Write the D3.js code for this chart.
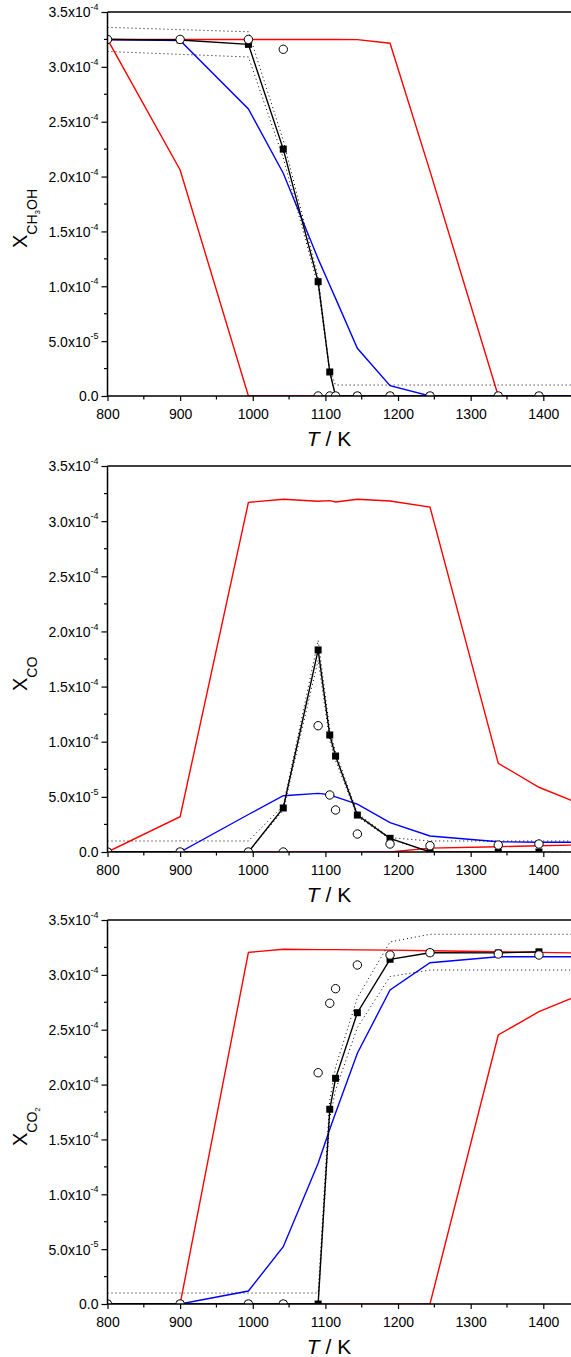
<!DOCTYPE html>
<html><head><meta charset="utf-8">
<script src="https://cdn.jsdelivr.net/npm/d3@7"></script>
<style>body{margin:0;background:#fff}svg{display:block}text{font-family:"Liberation Sans",Arial,sans-serif;fill:#000}</style>
</head><body><svg id="c" width="571" height="1357"></svg>
<script>
// Temperatures (K)
const T = [800, 900, 994, 1042, 1090, 1106, 1114, 1144, 1189, 1244, 1338, 1394, 1440];
const Texp = [800, 900, 994, 1042, 1090, 1106, 1114, 1144, 1189, 1244, 1338, 1394];
const xTicks = [800, 900, 1000, 1100, 1200, 1300, 1400];
const yTicks = [0, 0.5, 1.0, 1.5, 2.0, 2.5, 3.0, 3.5];           // units of 1e-4
const yTickMant = ["0.0", "5.0", "1.0", "1.5", "2.0", "2.5", "3.0", "3.5"];
const yTickExp  = ["", "-5", "-4", "-4", "-4", "-4", "-4", "-4"];

// ---- CH3OH (units 1e-4)
const ch3ohRedA = [3.25, 2.06, 0, 0, 0, 0, 0, 0, 0, 0, 0, 0, 0];
const ch3ohRedB = [3.25, 3.25, 3.25, 3.25, 3.25, 3.25, 3.25, 3.248, 3.215, 2.05, 0, 0, 0];
const ch3ohBlue = [3.25, 3.24, 2.616, 2.03, 1.25, 1.01, 0.89, 0.435, 0.094, 0, 0, 0, 0];
const ch3ohSq   = [3.25, 3.245, 3.205, 2.25, 1.042, 0.219, 0, 0, 0, 0, 0, 0];
const ch3ohCirc = [3.25, 3.25, 3.25, 3.16, 0, 0, 0, 0, 0, 0, 0, 0];
const ch3ohUpT  = [800, 994, 1042, 1090, 1106, 1114, 1440];
const ch3ohUp   = [3.36, 3.32, 2.33, 1.08, 0.23, 0.10, 0.10];
const ch3ohLoT  = [800, 994, 1042, 1090, 1106, 1114, 1440];
const ch3ohLo   = [3.14, 3.09, 2.17, 1.00, 0.21, 0, 0];

// ---- CO
const coRedA = [0, 0.32, 3.17, 3.198, 3.18, 3.186, 3.174, 3.198, 3.183, 3.128, 0.804, 0.587, 0.465];
const coRedB = [0, 0, 0, 0, 0, 0, 0, 0, 0, 0.035, 0.048, 0.057, 0.063];
const coBlue = [0, 0, 0.34, 0.51, 0.532, 0.52, 0.50, 0.435, 0.266, 0.145, 0.093, 0.088, 0.088];
const coSq   = [0, 0, 0, 0.399, 1.832, 1.061, 0.870, 0.335, 0.124, 0, 0, 0];
const coCirc = [0, 0, 0, 0, 1.145, 0.517, 0.381, 0.163, 0.0725, 0.057, 0.063, 0.0725];
const coUpT  = [800, 994, 1042, 1090, 1106, 1114, 1144, 1189, 1244, 1440];
const coUp   = [0.10, 0.10, 0.42, 1.92, 1.11, 0.91, 0.35, 0.13, 0.10, 0.10];
const coLoT  = [800, 994, 1042, 1090, 1106, 1114, 1144, 1189, 1244, 1440];
const coLo   = [0, 0, 0.38, 1.74, 1.01, 0.83, 0.32, 0.118, 0, 0];

// ---- CO2
const co2RedA = [0, 0, 3.205, 3.233, 3.23, 3.23, 3.23, 3.228, 3.225, 3.22, 3.21, 3.205, 3.20];
const co2RedB = [0, 0, 0, 0, 0, 0, 0, 0, 0, 0, 2.452, 2.664, 2.79];
const co2Blue = [0, 0, 0.118, 0.522, 1.282, 1.592, 1.74, 2.285, 2.862, 3.11, 3.165, 3.165, 3.165];
const co2Sq   = [0, 0, 0, 0, 0, 1.775, 2.057, 2.655, 3.142, 3.202, 3.20, 3.21];
const co2Circ = [0, 0, 0, 0, 2.108, 2.741, 2.874, 3.09, 3.181, 3.202, 3.19, 3.181];
const co2UpT  = [800, 1090, 1106, 1114, 1144, 1189, 1244, 1440];
const co2Up   = [0.10, 0.10, 1.86, 2.16, 2.79, 3.30, 3.37, 3.37];
const co2LoT  = [800, 1090, 1106, 1114, 1144, 1189, 1244, 1440];
const co2Lo   = [0, 0, 1.69, 1.95, 2.52, 2.985, 3.044, 3.044];

const panels = [
  {top: 12, bottom: 396, sub: "CH3OH", labelY: 248, redA: ch3ohRedA, redB: ch3ohRedB, blue: ch3ohBlue, sq: ch3ohSq, circ: ch3ohCirc, upT: ch3ohUpT, up: ch3ohUp, loT: ch3ohLoT, lo: ch3ohLo},
  {top: 466, bottom: 852, sub: "CO", labelY: 691, redA: coRedA, redB: coRedB, blue: coBlue, sq: coSq, circ: coCirc, upT: coUpT, up: coUp, loT: coLoT, lo: coLo},
  {top: 920, bottom: 1304, sub: "CO2", labelY: 1146, redA: co2RedA, redB: co2RedB, blue: co2Blue, sq: co2Sq, circ: co2Circ, upT: co2UpT, up: co2Up, loT: co2LoT, lo: co2Lo}
];

const svg = d3.select("#c");
const x = d3.scaleLinear().domain([800, 1400]).range([107.5, 543.3]);

panels.forEach((p, i) => {
  const y = d3.scaleLinear().domain([0, 3.5]).range([p.bottom, p.top]);
  const g = svg.append("g");
  const clipId = "clip" + i;
  svg.append("clipPath").attr("id", clipId).append("rect")
    .attr("x", x(800)).attr("y", p.top).attr("width", 571 - x(800) + 2).attr("height", p.bottom - p.top);
  const plot = g.append("g").attr("clip-path", `url(#${clipId})`);
  const line = d3.line().x(d => x(d[0])).y(d => y(d[1]));
  const zip = (ts, vs) => ts.map((t, k) => [t, vs[k]]);

  plot.append("path").attr("d", line(zip(T, p.redA))).attr("fill", "none").attr("stroke", "#ff0000").attr("stroke-width", 1.4);
  plot.append("path").attr("d", line(zip(T, p.redB))).attr("fill", "none").attr("stroke", "#ff0000").attr("stroke-width", 1.4);
  plot.append("path").attr("d", line(zip(T, p.blue))).attr("fill", "none").attr("stroke", "#0000ff").attr("stroke-width", 1.4);
  [[p.upT, p.up], [p.loT, p.lo]].forEach(([ts, vs]) => {
    plot.append("path").attr("d", line(zip(ts, vs))).attr("fill", "none").attr("stroke", "#000")
      .attr("stroke-width", 1).attr("stroke-dasharray", "1,3");
  });
  plot.append("path").attr("d", line(zip(Texp, p.sq))).attr("fill", "none").attr("stroke", "#000").attr("stroke-width", 1.4);
  plot.selectAll("rect.sq").data(zip(Texp, p.sq)).join("rect").attr("class", "sq")
    .attr("x", d => x(d[0]) - 3.5).attr("y", d => y(d[1]) - 3.5).attr("width", 7).attr("height", 7).attr("fill", "#000");
  plot.selectAll("circle.c").data(zip(Texp, p.circ)).join("circle").attr("class", "c")
    .attr("cx", d => x(d[0])).attr("cy", d => y(d[1])).attr("r", 4.2)
    .attr("fill", "#fff").attr("stroke", "#000").attr("stroke-width", 1);

  // axes
  const xMinor = d3.range(850, 1440, 100);
  const xAx = d3.axisBottom(x).tickValues(xTicks).tickSize(5).tickPadding(8).tickFormat(d3.format("d"));
  const gx = g.append("g").attr("transform", `translate(0,${p.bottom})`).call(xAx);
  gx.select(".domain").remove();
  gx.append("line").attr("x1", x(800)).attr("x2", 571).attr("stroke", "#000").attr("stroke-width", 1.5);
  gx.selectAll(".tick line").attr("stroke-width", 1.2);
  gx.selectAll(".tick text").attr("font-size", 14).attr("font-family", "Liberation Sans, Arial, sans-serif");
  gx.selectAll("line.minor").data(xMinor).join("line").attr("class", "minor")
    .attr("x1", d => x(d)).attr("x2", d => x(d)).attr("y1", 0).attr("y2", 3.5).attr("stroke", "#000").attr("stroke-width", 1.2);

  const yAx = d3.axisLeft(y).tickValues(yTicks).tickSize(6).tickPadding(3).tickFormat("");
  const gy = g.append("g").attr("transform", `translate(${x(800)},0)`).call(yAx);
  gy.select(".domain").remove();
  gy.append("line").attr("y1", p.top).attr("y2", p.bottom).attr("stroke", "#000").attr("stroke-width", 1.5);
  gy.selectAll(".tick line").attr("stroke-width", 1.2);
  gy.selectAll(".tick text").each(function(d, k) {
    const t = d3.select(this).attr("font-size", 14).attr("font-family", "Liberation Sans, Arial, sans-serif").attr("dy", "0.35em");
    t.append("tspan").text(yTickMant[k] + (yTickExp[k] ? "x10" : ""));
    if (yTickExp[k]) t.append("tspan").attr("font-size", 9).attr("dy", "-0.8em").text(yTickExp[k]);
  });
  const yMinor = d3.range(0.25, 3.5, 0.5);
  gy.selectAll("line.minor").data(yMinor).join("line").attr("class", "minor")
    .attr("y1", d => y(d)).attr("y2", d => y(d)).attr("x1", 0).attr("x2", -3.5).attr("stroke", "#000").attr("stroke-width", 1.2);

  // top border
  g.append("line").attr("x1", x(800)).attr("x2", 571).attr("y1", p.top).attr("y2", p.top).attr("stroke", "#000").attr("stroke-width", 1.5);

  // x label
  const xl = g.append("text").attr("x", 329).attr("y", p.bottom + 50).attr("text-anchor", "middle").attr("font-size", 21);
  xl.append("tspan").attr("font-style", "italic").text("T");
  xl.append("tspan").text(" / K");

  // y label
  const yl = g.append("text").attr("transform", `translate(27,${p.labelY}) rotate(-90)`).attr("font-size", 20);
  yl.append("tspan").text("X");
  if (p.sub === "CH3OH") {
    yl.append("tspan").attr("font-size", 14).attr("dy", 10).text("CH");
    yl.append("tspan").attr("font-size", 8).attr("dy", 3).text("3");
    yl.append("tspan").attr("font-size", 14).attr("dy", -3).text("OH");
  } else if (p.sub === "CO2") {
    yl.append("tspan").attr("font-size", 14).attr("dy", 10).text("CO");
    yl.append("tspan").attr("font-size", 8).attr("dy", 3).text("2");
  } else {
    yl.append("tspan").attr("font-size", 14).attr("dy", 10).text("CO");
  }
});
</script></body></html>
